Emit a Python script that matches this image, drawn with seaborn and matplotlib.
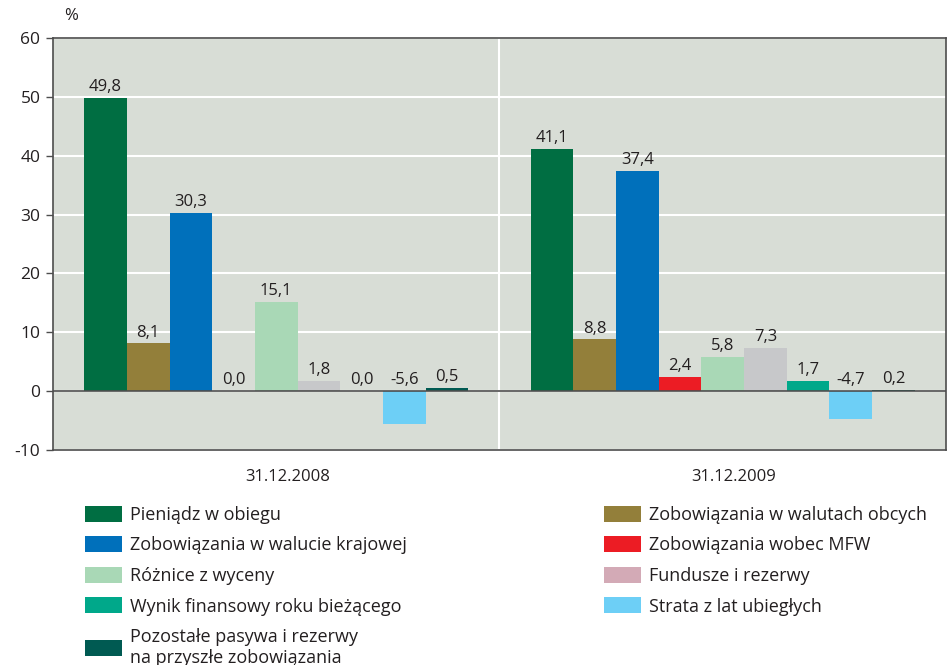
import pandas as pd
import numpy as np
import matplotlib.pyplot as plt
import matplotlib.transforms as mtransforms
import seaborn as sns
from matplotlib.patches import Patch

# ==================== dane ====================
dates = ['31.12.2008', '31.12.2009']
categories = [
    'Pieniądz w obiegu',
    'Zobowiązania w walutach obcych',
    'Zobowiązania w walucie krajowej',
    'Zobowiązania wobec MFW',
    'Różnice z wyceny',
    'Fundusze i rezerwy',
    'Wynik finansowy roku bieżącego',
    'Strata z lat ubiegłych',
    'Pozostałe pasywa i rezerwy\nna przyszłe zobowiązania',
]
values_2008 = [49.8, 8.1, 30.3, 0.0, 15.1, 1.8, 0.0, -5.6, 0.5]
values_2009 = [41.1, 8.8, 37.4, 2.4, 5.8, 7.3, 1.7, -4.7, 0.2]

bar_colors = ['#006e42', '#937f3a', '#0070bb', '#ec1c24', '#a9d8b6',
              '#c7c8ca', '#00a88a', '#6dcff6', '#005a52']
# w legendzie "Fundusze i rezerwy" ma inny kolor niż słupek
legend_colors = bar_colors.copy()
legend_colors[5] = '#d3aab6'

df = pd.DataFrame({
    'date': np.repeat(dates, len(categories)),
    'cat': categories * 2,
    'value': values_2008 + values_2009,
})

# ==================== styl ====================
sns.set_style('white')
plt.rcParams['font.family'] = ['Open Sans', 'DejaVu Sans']
plt.rcParams['font.size'] = 12
plt.rcParams['axes.unicode_minus'] = False

fig = plt.figure(figsize=(9.49, 6.65), dpi=100)
ax = fig.add_axes([0.0558, 0.3233, 0.941, 0.6196])
ax.set_facecolor('#d8ddd6')

sns.barplot(data=df, x='date', y='value', hue='cat', hue_order=categories,
            order=dates, palette=bar_colors, width=0.86, saturation=1,
            legend=False, ax=ax)

for patch in ax.patches:
    patch.set_edgecolor('none')

# etykiety wartości (ujemne też nad osią zero)
for cont in ax.containers:
    for bar in cont:
        h = bar.get_height()
        if np.isnan(h):
            continue
        y = max(h, 0)
        ax.annotate(f'{h:.1f}'.replace('.', ','),
                    (bar.get_x() + bar.get_width() / 2, y),
                    xytext=(0, 2), textcoords='offset points',
                    ha='center', va='bottom', fontsize=12, color='#231f20')

ax.set_ylim(-10, 60)
ax.set_xlim(-0.5, 1.5)
ax.set_yticks(range(-10, 61, 10))
ax.yaxis.grid(True, color='white', linewidth=1.5)
ax.set_axisbelow(True)
ax.axvline(0.5, color='white', linewidth=1.5, zorder=0.5)
ax.axhline(0, color='#4d4d4d', linewidth=1.2, zorder=3)

for s in ax.spines.values():
    s.set_color('#4d4d4d')
    s.set_linewidth(1.2)

ax.tick_params(axis='y', length=5, width=1, color='#4d4d4d', labelsize=12.5,
               labelcolor='#231f20', pad=4, direction='out', left=True)
ax.tick_params(axis='x', length=0, labelsize=12, labelcolor='#231f20', pad=14)
# daty lekko przesunięte w prawo jak w oryginale
shift = mtransforms.ScaledTranslation(0.11, 0, fig.dpi_scale_trans)
for lbl in ax.get_xticklabels():
    lbl.set_transform(lbl.get_transform() + shift)
ax.set_xlabel('')
ax.set_ylabel('')
ax.text(0.012, 1.035, '%', transform=ax.transAxes, fontsize=12,
        color='#231f20', ha='left', va='bottom')

# ==================== legenda ====================
order = [0, 2, 4, 6, 8, 1, 3, 5, 7]
handles = [Patch(facecolor=legend_colors[i], edgecolor='none') for i in order]
labels = [categories[i] for i in order]
fig.legend(handles, labels, ncol=2, loc='upper left',
           bbox_to_anchor=(0.0727, 0.264), frameon=False, fontsize=13,
           handlelength=2.05, handleheight=1.0, handletextpad=0.45,
           labelspacing=0.68, columnspacing=10.9, labelcolor='#231f20')

fig.savefig('out.png', dpi=100)
